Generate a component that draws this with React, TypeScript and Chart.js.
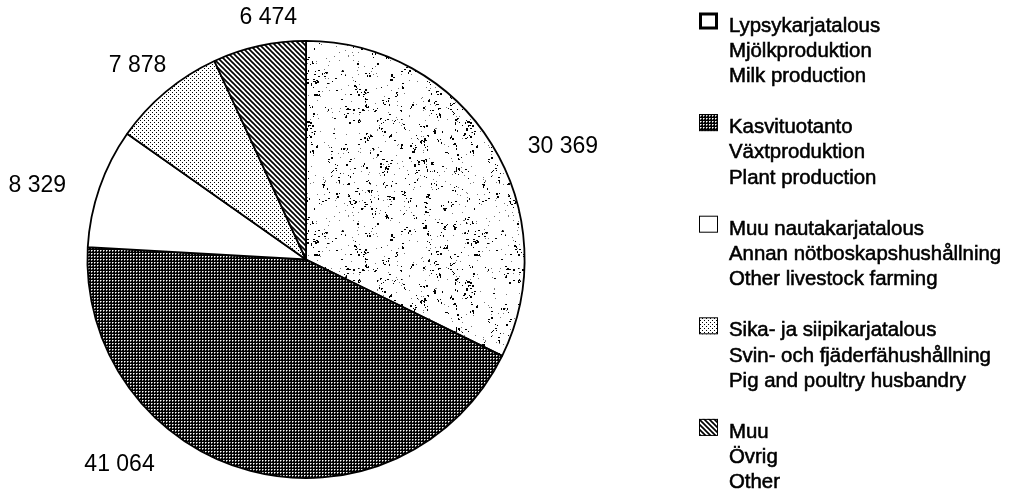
import React, { useEffect, useRef } from 'react';
import { Chart, registerables } from 'chart.js';

Chart.register(...registerables);

// ---- data ----
const categoriesFi = ['Lypsykarjatalous', 'Kasvituotanto', 'Muu nautakarjatalous', 'Sika- ja siipikarjatalous', 'Muu'];
const categoriesSv = ['Mjölkproduktion', 'Växtproduktion', 'Annan nötboskapshushållning', 'Svin- och fjäderfähushållning', 'Övrig'];
const categoriesEn = ['Milk production', 'Plant production', 'Other livestock farming', 'Pig and poultry husbandry', 'Other'];
const values = [30369, 41064, 8329, 7878, 6474];

// ---- label placement style (relative to each slice's mid angle / outer edge) ----
const labelAngleShift = [8.2, 27.5, -3.8, -1.2, 3.5];
const labelRadiusExtra = [62, 59, 60, 38, 26];

const formatValue = (v: number) => String(v).replace(/\B(?=(\d{3})+(?!\d))/g, ' ');

function makeTile(w: number, h: number, draw: (c: CanvasRenderingContext2D) => void) {
  const cv = document.createElement('canvas');
  cv.width = w;
  cv.height = h;
  const c = cv.getContext('2d')!;
  draw(c);
  return cv;
}

function buildPatterns(ctx: CanvasRenderingContext2D) {
  // speckle texture (deterministic LCG)
  let seed = 987654;
  const rnd = () => {
    seed = (seed * 1103515245 + 12345) & 0x7fffffff;
    return seed / 0x7fffffff;
  };
  const S = 160;
  const speckle = makeTile(S, S, (c) => {
    c.fillStyle = '#fff';
    c.fillRect(0, 0, S, S);
    c.fillStyle = '#000';
    // clustered specks
    for (let k = 0; k < 260; k++) {
      const cx = rnd() * S;
      const cy = rnd() * S;
      const n = 1 + Math.floor(rnd() * 4);
      for (let i = 0; i < n; i++) {
        const x = Math.floor(cx + (rnd() - 0.5) * 5);
        const y = Math.floor(cy + (rnd() - 0.5) * 5);
        const w = rnd() < 0.4 ? 2 : 1;
        const h = rnd() < 0.3 ? 2 : 1;
        c.fillRect(((x % S) + S) % S, ((y % S) + S) % S, w, h);
      }
    }
    c.fillStyle = '#777';
    for (let i = 0; i < 300; i++) {
      c.fillRect(Math.floor(rnd() * S), Math.floor(rnd() * S), 1, 1);
    }
  });
  const checker = makeTile(3, 3, (c) => {
    c.fillStyle = '#000';
    c.fillRect(0, 0, 3, 3);
    c.fillStyle = '#fff';
    c.fillRect(1, 1, 1, 1);
    c.fillStyle = '#8a8a8a';
    c.fillRect(2, 1, 1, 1);
    c.fillRect(1, 2, 1, 1);
  });
  const dots = makeTile(4, 4, (c) => {
    c.fillStyle = '#fff';
    c.fillRect(0, 0, 4, 4);
    c.fillStyle = '#000';
    c.fillRect(0, 0, 1, 1);
    c.fillRect(2, 2, 1, 1);
  });
  const stripes = makeTile(5, 5, (c) => {
    c.fillStyle = '#fff';
    c.fillRect(0, 0, 5, 5);
    c.strokeStyle = '#000';
    c.lineWidth = 1.7;
    for (let k = -1; k <= 1; k++) {
      c.beginPath();
      c.moveTo(-1, k * 5 - 1);
      c.lineTo(6, k * 5 + 6);
      c.stroke();
    }
  });
  return {
    milk: ctx.createPattern(speckle, 'repeat')!,
    plant: ctx.createPattern(checker, 'repeat')!,
    other: '#ffffff',
    pig: ctx.createPattern(dots, 'repeat')!,
    muu: ctx.createPattern(stripes, 'repeat')!,
  };
}

export default function App() {
  const ref = useRef<HTMLCanvasElement | null>(null);

  useEffect(() => {
    document.body.style.margin = '0';
    const canvas = ref.current!;
    const ctx = canvas.getContext('2d')!;
    const p = buildPatterns(ctx);
    const fills = [p.milk, p.plant, p.other, p.pig, p.muu];
    const iconFills = ['#ffffff', p.plant, '#ffffff', p.pig, p.muu];
    const iconBorder = [3, 1, 1, 1, 1];

    const valueLabelPlugin = {
      id: 'valueLabels',
      afterDatasetsDraw(chart: any) {
        const c = chart.ctx as CanvasRenderingContext2D;
        const meta = chart.getDatasetMeta(0);
        c.save();
        c.font = '23px "Liberation Sans", Arial, sans-serif';
        c.fillStyle = '#000';
        c.textAlign = 'center';
        c.textBaseline = 'middle';
        meta.data.forEach((arc: any, i: number) => {
          const { x, y, startAngle, endAngle, outerRadius } = arc.getProps(
            ['x', 'y', 'startAngle', 'endAngle', 'outerRadius'],
            true
          );
          const mid = (startAngle + endAngle) / 2 + (labelAngleShift[i] * Math.PI) / 180;
          const r = outerRadius + labelRadiusExtra[i];
          c.fillText(formatValue(values[i]), x + Math.cos(mid) * r, y + Math.sin(mid) * r);
        });
        c.restore();
      },
    };

    const legendPlugin = {
      id: 'multiLegend',
      afterDraw(chart: any) {
        const c = chart.ctx as CanvasRenderingContext2D;
        const boxX = 699;
        const textX = 729;
        const firstBase = 31.5;
        const lineGap = 25.2;
        const itemGap = 101.6;
        c.save();
        c.font = '20.4px "Liberation Sans", Arial, sans-serif';
        c.textAlign = 'left';
        c.textBaseline = 'alphabetic';
        c.lineWidth = 0.55;
        c.strokeStyle = '#000';
        categoriesFi.forEach((fi, i) => {
          const base = firstBase + i * itemGap;
          const bw = iconBorder[i];
          c.fillStyle = iconFills[i] as any;
          c.fillRect(boxX, base - 19, 19, 17);
          c.save();
          c.strokeStyle = '#000';
          c.lineWidth = bw;
          c.strokeRect(boxX + bw / 2, base - 19 + bw / 2, 19 - bw, 17 - bw);
          c.restore();
          c.fillStyle = '#000';
          [fi, categoriesSv[i], categoriesEn[i]].forEach((t, j) => {
            c.fillText(t, textX, base + j * lineGap);
            c.strokeText(t, textX, base + j * lineGap);
          });
        });
        c.restore();
      },
    };

    const chart = new Chart(canvas, {
      type: 'pie',
      data: {
        labels: categoriesEn,
        datasets: [
          {
            data: values,
            backgroundColor: fills as any,
            borderColor: '#000',
            borderWidth: 1.8,
          },
        ],
      },
      options: {
        responsive: false,
        animation: false,
        layout: { padding: { left: 85, right: 488, top: 40, bottom: 15 } },
        plugins: {
          legend: { display: false },
          tooltip: { enabled: false },
        },
      },
      plugins: [valueLabelPlugin, legendPlugin],
    });
    return () => chart.destroy();
  }, []);

  return (
    <div style={{ width: 1015, height: 494, background: '#fff' }}>
      <canvas ref={ref} width={1015} height={494} style={{ display: 'block' }} />
    </div>
  );
}
